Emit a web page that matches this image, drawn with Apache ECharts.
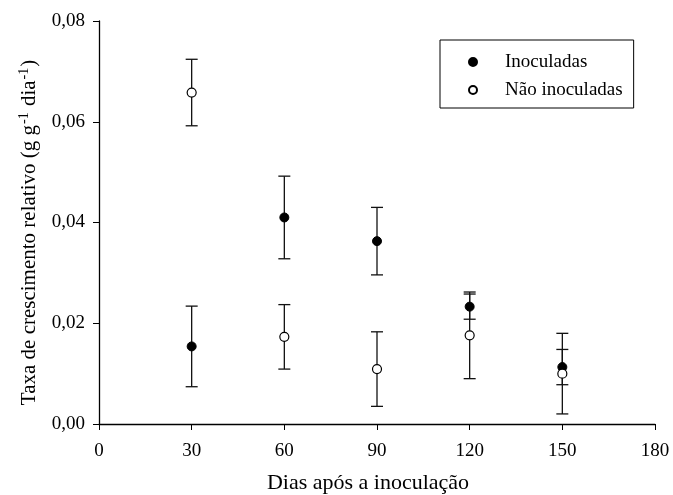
<!DOCTYPE html>
<html>
<head>
<meta charset="utf-8">
<script src="https://cdn.jsdelivr.net/npm/echarts@6/dist/echarts.min.js"></script>
<style>
  html, body { margin: 0; padding: 0; background: #fff; }
  #chart { width: 673px; height: 495px; }
</style>
</head>
<body>
<div id="chart"></div>
<script>
// dias após a inoculação
const days = [30, 60, 90, 120, 150]
const inoculadas = [0.0154, 0.0410, 0.0363, 0.0233, 0.0113]
const inoculadasErr = [0.0080, 0.0082, 0.0067, 0.0025, 0.0035]
const naoInoculadas = [0.0658, 0.0173, 0.0109, 0.0176, 0.0100]
const naoInoculadasErr = [0.0066, 0.0064, 0.0074, 0.0086, 0.0080]
const xTicks = [0, 30, 60, 90, 120, 150, 180]
const yTickLabels = ['0,00', '0,02', '0,04', '0,06', '0,08']

const font = 'Liberation Serif'

function errData(vals, errs) {
    return days.map((d, i) => [d, vals[i] - errs[i], vals[i] + errs[i]])
}

function renderErr(params, api) {
    const x = api.value(0)
    const lo = api.coord([x, api.value(1)])
    const hi = api.coord([x, api.value(2)])
    const w = 6
    const style = { stroke: '#111', lineWidth: 1.3 }
    return {
        type: 'group',
        children: [
            { type: 'line', shape: { x1: lo[0], y1: lo[1], x2: hi[0], y2: hi[1] }, style },
            { type: 'line', shape: { x1: lo[0] - w, y1: lo[1], x2: lo[0] + w, y2: lo[1] }, style },
            { type: 'line', shape: { x1: hi[0] - w, y1: hi[1], x2: hi[0] + w, y2: hi[1] }, style }
        ]
    }
}

const option = {
    animation: false,
    textStyle: { fontFamily: font },
    grid: { left: 99, right: 18, top: 21, bottom: 71, outerBoundsMode: 'none', containLabel: false },
    legend: {
        orient: 'vertical',
        left: 440,
        top: 40,
        padding: [12, 11, 8, 28],
        itemGap: 8,
        itemWidth: 8,
        itemHeight: 8,
        borderColor: '#000',
        borderWidth: 1,
        textStyle: { fontFamily: font, fontSize: 19, lineHeight: 20, color: '#000', padding: [0, 0, 0, 23] },
        data: ['Inoculadas', 'Não inoculadas']
    },
    xAxis: {
        type: 'value',
        min: 0,
        max: 180,
        interval: 30,
        name: 'Dias após a inoculação',
        nameLocation: 'middle',
        nameGap: 48,
        nameTextStyle: { fontFamily: font, fontSize: 22, color: '#000', padding: [0, 18, 0, 0] },
        splitLine: { show: false },
        axisLine: { lineStyle: { color: '#000', width: 1.3 } },
        axisTick: { show: true, length: 6, lineStyle: { color: '#000' } },
        axisLabel: {
            fontFamily: font, fontSize: 19, color: '#000', margin: 18,
            formatter: v => xTicks.includes(v) ? String(v) : ''
        }
    },
    yAxis: {
        type: 'value',
        min: 0,
        max: 0.08,
        interval: 0.02,
        name: '{t|Taxa de crescimento relativo (g g}{s|-1}{t| dia}{s|-1}{t|)}',
        nameLocation: 'middle',
        nameRotate: 90,
        nameGap: 58,
        nameTextStyle: {
            padding: [0, 20, 0, 0],
            rich: {
                t: { fontFamily: font, fontSize: 21, color: '#000' },
                s: { fontFamily: font, fontSize: 14, color: '#000', verticalAlign: 'top', padding: [0, 1, 10, 1] }
            }
        },
        splitLine: { show: false },
        axisLine: { show: true, lineStyle: { color: '#000', width: 1.3 } },
        axisTick: { show: true, length: 6, lineStyle: { color: '#000' } },
        axisLabel: {
            fontFamily: font, fontSize: 19, color: '#000', margin: 14,
            formatter: v => yTickLabels[Math.round(v / 0.02)]
        }
    },
    series: [
        {
            name: 'errInoc',
            type: 'custom',
            renderItem: renderErr,
            data: errData(inoculadas, inoculadasErr),
            z: 1
        },
        {
            name: 'errNao',
            type: 'custom',
            renderItem: renderErr,
            data: errData(naoInoculadas, naoInoculadasErr),
            z: 1
        },
        {
            name: 'Inoculadas',
            type: 'scatter',
            symbol: 'circle',
            symbolSize: 9,
            itemStyle: { color: '#000', borderColor: '#000', borderWidth: 1, opacity: 1 },
            data: days.map((d, i) => [d, inoculadas[i]]),
            z: 3
        },
        {
            name: 'Não inoculadas',
            type: 'scatter',
            symbol: 'circle',
            symbolSize: 9,
            itemStyle: { color: '#fff', borderColor: '#000', borderWidth: 1.2, opacity: 1 },
            data: days.map((d, i) => [d, naoInoculadas[i]]),
            z: 4
        }
    ]
}

const chart = echarts.init(document.getElementById('chart'))
chart.setOption(option)
</script>
</body>
</html>
